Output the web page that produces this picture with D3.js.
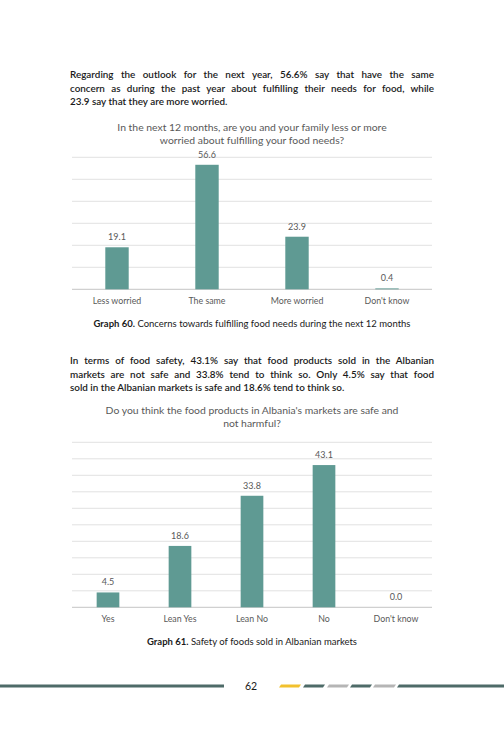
<!DOCTYPE html>
<html>
<head>
<meta charset="utf-8">
<script src="https://cdn.jsdelivr.net/npm/d3@7"></script>
<style>
  body { margin: 0; background: #fff; }
  svg { display: block; }
  text { font-family: "Century Gothic", "URW Gothic", Lato, sans-serif; }
</style>
</head>
<body>
<div id="page"></div>
<script>
// DATA
const para1 = [
    "Regarding the outlook for the next year, 56.6% say that have the same",
    "concern as during the past year about fulfilling their needs for food, while",
    "23.9 say that they are more worried."
];
const title1 = [
    "In the next 12 months, are you and your family less or more",
    "worried about fulfilling your food needs?"
];
const cats1 = ["Less worried", "The same", "More worried", "Don't know"];
const vals1 = [19.1, 56.6, 23.9, 0.4];
const ticks1 = [0, 10, 20, 30, 40, 50, 60];

const para2 = [
    "In terms of food safety, 43.1% say that food products sold in the Albanian",
    "markets are not safe and 33.8% tend to think so. Only 4.5% say that food",
    "sold in the Albanian markets is safe and 18.6% tend to think so."
];
const title2 = [
    "Do you think the food products in Albania's markets are safe and",
    "not harmful?"
];
const cats2 = ["Yes", "Lean Yes", "Lean No", "No", "Don't know"];
const vals2 = [4.5, 18.6, 33.8, 43.1, 0.0];
const ticks2 = [0, 5, 10, 15, 20, 25, 30, 35, 40, 45, 50];

const captions = [
    ["Graph 60.", " Concerns towards fulfilling food needs during the next 12 months"],
    ["Graph 61.", " Safety of foods sold in Albanian markets"]
];
const pageNumber = "62";

// CONFIGURATION
const W = 504, H = 729;
const textWidth = 364;
const barColor = "#5f9a93";
const gridColor = "#d9d9d9";
const greyText = "#595959";

const svg = d3.select("#page").append("svg")
    .attr("width", W).attr("height", H)
    .attr("viewBox", `0 0 ${W} ${H}`);

function paragraph(lines, y0) {
    lines.forEach((line, i) => {
        let t = svg.append("text")
            .attr("x", 70)
            .attr("y", y0 + i * 13.5)
            .attr("font-size", 9.9)
            .attr("font-weight", 600)
            .attr("fill", "#1a1a1a")
            .text(line);
        // justify every line but the last by widening the word gaps
        if (i < lines.length - 1) {
            let gaps = line.split(" ").length - 1;
            let extra = (textWidth - t.node().getComputedTextLength()) / gaps;
            t.attr("word-spacing", extra);
        }
    });
}

function chartTitle(lines, y0) {
    svg.append("text")
        .attr("text-anchor", "middle")
        .attr("font-size", 10.4)
        .attr("fill", greyText)
        .selectAll("tspan")
        .data(lines)
        .enter()
        .append("tspan")
        .attr("x", 252)
        .attr("y", (d, i) => y0 + i * 13)
        .text(d => d);
}

function caption(parts, y) {
    let t = svg.append("text")
        .attr("x", 252)
        .attr("y", y)
        .attr("text-anchor", "middle")
        .attr("font-size", 9.5)
        .attr("fill", "#1a1a1a");
    t.append("tspan").attr("font-weight", "bold").text(parts[0]);
    t.append("tspan").text(parts[1]);
}

function drawChart(cats, vals, ticks, top, bottom, padding) {
    let x = d3.scaleBand()
        .domain(cats)
        .range([72, 432])
        .paddingInner(padding)
        .paddingOuter(padding / 2);

    let y = d3.scaleLinear()
        .domain([0, d3.max(ticks)])
        .range([bottom, top]);

    let g = svg.append("g");

    g.selectAll("line.grid")
        .data(ticks)
        .enter()
        .append("line")
        .attr("class", "grid")
        .attr("x1", 72).attr("x2", 432)
        .attr("y1", d => y(d)).attr("y2", d => y(d))
        .attr("stroke", d => d === 0 ? "#d0d0d0" : gridColor)
        .attr("stroke-width", d => d === 0 ? 1.2 : 0.8);

    g.selectAll("rect")
        .data(vals)
        .enter()
        .append("rect")
        .attr("x", (d, i) => x(cats[i]))
        .attr("y", d => y(d))
        .attr("width", x.bandwidth())
        .attr("height", d => y(0) - y(d))
        .attr("fill", barColor);

    g.selectAll("text.value")
        .data(vals)
        .enter()
        .append("text")
        .attr("class", "value")
        .attr("x", (d, i) => x(cats[i]) + x.bandwidth() / 2)
        .attr("y", d => y(d) - 7)
        .attr("text-anchor", "middle")
        .attr("font-size", 9)
        .attr("fill", greyText)
        .text(d => d.toFixed(1));

    g.selectAll("text.cat")
        .data(cats)
        .enter()
        .append("text")
        .attr("class", "cat")
        .attr("x", d => x(d) + x.bandwidth() / 2)
        .attr("y", bottom + 14.5)
        .attr("text-anchor", "middle")
        .attr("font-size", 8.8)
        .attr("fill", greyText)
        .text(d => d);
}

// DRAWING
paragraph(para1, 78);
chartTitle(title1, 131);
drawChart(cats1, vals1, ticks1, 157.3, 289.3, 0.74);
caption(captions[0], 327);

paragraph(para2, 364);
chartTitle(title2, 414);
drawChart(cats2, vals2, ticks2, 442.3, 607.3, 0.685);
caption(captions[1], 645);

// footer band
let footer = svg.append("g");
footer.append("rect")
    .attr("x", 0).attr("y", 684.5)
    .attr("width", 224).attr("height", 3)
    .attr("fill", "#4e6b68");
footer.append("text")
    .attr("x", 251).attr("y", 690)
    .attr("text-anchor", "middle")
    .attr("font-family", "Calibri, Carlito, 'Liberation Sans', sans-serif")
    .attr("font-size", 10.5)
    .attr("fill", "#1a1a1a")
    .text(pageNumber);

const dashes = [
    {x0: 279, x1: 301, c: "#f2c12e"},
    {x0: 303, x1: 325, c: "#4e6b68"},
    {x0: 327, x1: 349, c: "#b5b5b5"},
    {x0: 350, x1: 372, c: "#4e6b68"},
    {x0: 373, x1: 396, c: "#b5b5b5"},
    {x0: 397, x1: 506, c: "#4e6b68"}
];
footer.selectAll("path")
    .data(dashes)
    .enter()
    .append("path")
    .attr("d", d => `M${d.x0},687.5 L${d.x0 + 2},684.5 L${d.x1},684.5 L${d.x1 - 2},687.5 Z`)
    .attr("fill", d => d.c);
</script>
</body>
</html>
